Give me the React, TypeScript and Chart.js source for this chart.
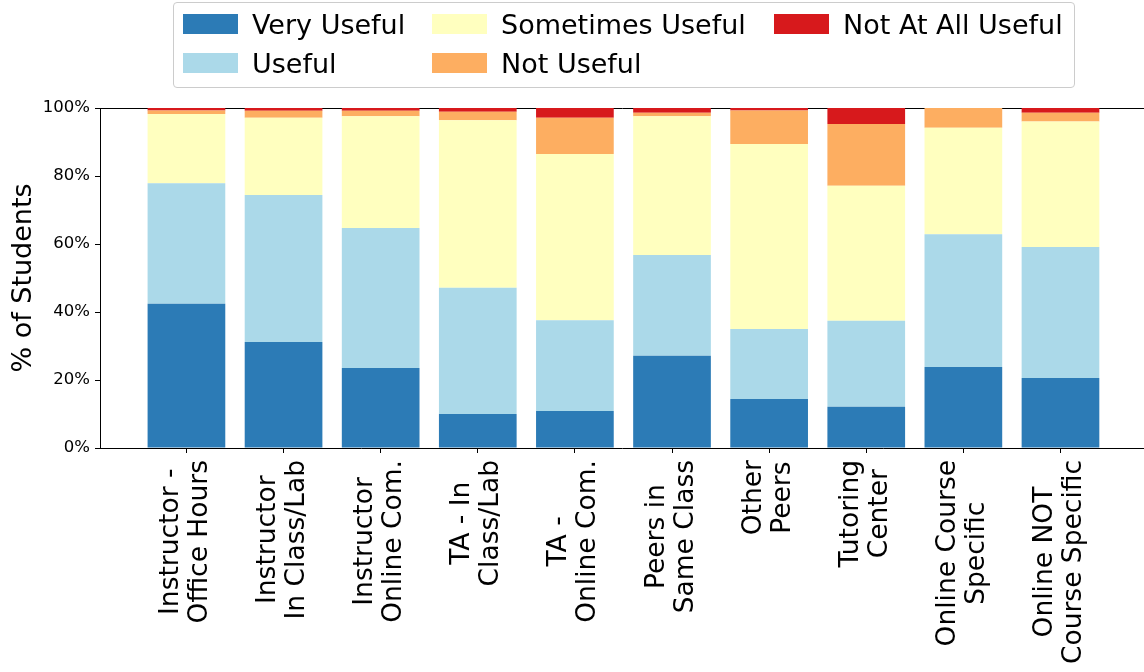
import React, { useEffect, useRef } from "react";
import { Chart, registerables } from "chart.js";

Chart.register(...registerables);

const categories: string[][] = [
  ["Instructor -", "Office Hours"],
  ["Instructor", "In Class/Lab"],
  ["Instructor", "Online Com."],
  ["TA - In", "Class/Lab"],
  ["TA -", "Online Com."],
  ["Peers in", "Same Class"],
  ["Other", "Peers"],
  ["Tutoring", "Center"],
  ["Online Course", "Specific"],
  ["Online NOT", "Course Specific"],
];

const seriesNames = ["Very Useful", "Useful", "Sometimes Useful", "Not Useful", "Not At All Useful"];
const seriesColors = ["#2c7bb6", "#abd9e9", "#ffffbf", "#fdae61", "#d7191c"];

const veryUseful = [42.4, 31.2, 23.5, 10.0, 10.9, 27.1, 14.4, 12.1, 23.8, 20.6];
const useful = [35.5, 43.2, 41.2, 37.1, 26.7, 29.7, 20.6, 25.3, 39.1, 38.5];
const sometimesUseful = [20.3, 22.7, 32.9, 49.3, 48.9, 40.8, 54.4, 39.7, 31.3, 36.9];
const notUseful = [1.1, 2.1, 1.6, 2.5, 10.6, 1.0, 9.9, 18.2, 5.8, 2.6];
const notAtAllUseful = [0.7, 0.8, 0.8, 1.1, 2.9, 1.4, 0.7, 4.7, 0.0, 1.4];

const yTicks = [0, 20, 40, 60, 80, 100];

const FONT = '"DejaVu Sans", sans-serif';

const xLabelPlugin = {
  id: "xLabelPlugin",
  afterDraw(chart: any) {
    const ctx = chart.ctx as CanvasRenderingContext2D;
    const xs = chart.scales.x;
    const bottom = chart.chartArea.bottom;
    ctx.save();
    ctx.font = `26.5px ${FONT}`;
    ctx.fillStyle = "#000";
    ctx.textAlign = "center";
    ctx.textBaseline = "alphabetic";
    categories.forEach((lines, i) => {
      const px = xs.getPixelForValue(i);
      const maxW = Math.max(...lines.map((l) => ctx.measureText(l).width));
      const cy = bottom + 12 + maxW / 2;
      ctx.save();
      ctx.translate(px, cy);
      ctx.rotate(-Math.PI / 2);
      const n = lines.length;
      lines.forEach((l, j) => {
        const off = (j - (n - 1) / 2) * 29 + 6;
        ctx.fillText(l, 0, off);
      });
      ctx.restore();
    });
    ctx.restore();
  },
};

export default function App() {
  const ref = useRef<HTMLCanvasElement | null>(null);

  useEffect(() => {
    if (!ref.current) return;
    const values = [veryUseful, useful, sometimesUseful, notUseful, notAtAllUseful];
    const chart = new Chart(ref.current, {
      type: "bar",
      data: {
        datasets: values.map((arr, k) => ({
          label: seriesNames[k],
          data: arr.map((v, i) => ({ x: i, y: v })),
          backgroundColor: seriesColors[k],
          borderWidth: 0,
          categoryPercentage: 1.0,
          barPercentage: 0.8,
          stack: "s",
        })),
      },
      options: {
        animation: false,
        responsive: false,
        devicePixelRatio: 1,
        events: [],
        layout: { padding: { top: 108, left: 0, right: 0, bottom: 0 } },
        plugins: {
          legend: { display: false },
          tooltip: { enabled: false },
          title: { display: false },
        },
        scales: {
          x: {
            type: "linear",
            position: "bottom",
            min: -0.89,
            max: 9.86,
            offset: false,
            stacked: true,
            afterBuildTicks: (s: any) => {
              s.ticks = categories.map((_, i) => ({ value: i }));
            },
            afterFit: (s: any) => {
              s.height = 224;
            },
            ticks: { display: false },
            grid: {
              display: true,
              offset: false,
              drawOnChartArea: false,
              drawTicks: true,
              tickLength: 5,
              color: "#000",
              lineWidth: 1,
            },
            border: { display: true, color: "#000", width: 1 },
          },
          xTop: {
            type: "linear",
            position: "top",
            min: -0.89,
            max: 9.86,
            offset: false,
            afterFit: (s: any) => {
              s.height = 0;
            },
            ticks: { display: false },
            grid: { display: false, offset: false },
            border: { display: true, color: "#000", width: 1 },
          },
          y: {
            type: "linear",
            min: 0,
            max: 100,
            stacked: true,
            afterBuildTicks: (s: any) => {
              s.ticks = yTicks.map((v) => ({ value: v }));
            },
            afterFit: (s: any) => {
              s.width = 100;
            },
            ticks: {
              padding: 5,
              color: "#000",
              font: { family: FONT, size: 16.5 },
              callback: (v: any) => `${v}%`,
            },
            grid: {
              display: true,
              drawOnChartArea: false,
              drawTicks: true,
              tickLength: 5,
              color: "#000",
              lineWidth: 1,
            },
            border: { display: true, color: "#000", width: 1 },
            title: {
              display: true,
              text: "% of Students",
              color: "#000",
              font: { family: FONT, size: 27 },
              padding: { top: 8, bottom: 0 },
            },
          },
        },
      },
      plugins: [xLabelPlugin],
    } as any);
    return () => chart.destroy();
  }, []);

  const colLeft = [183, 432, 774];
  const legendItems = [
    { k: 0, col: 0, row: 0 },
    { k: 1, col: 0, row: 1 },
    { k: 2, col: 1, row: 0 },
    { k: 3, col: 1, row: 1 },
    { k: 4, col: 2, row: 0 },
  ];

  return (
    <div style={{ position: "absolute", left: 0, top: 0, width: 1144, height: 672, background: "#fff" }}>
      <canvas ref={ref} width={1144} height={672} style={{ position: "absolute", left: 0, top: 0 }} />
      <div
        style={{
          position: "absolute",
          left: 173,
          top: 2,
          width: 902,
          height: 86,
          border: "1px solid #cccccc",
          borderRadius: 4,
          boxSizing: "border-box",
          background: "rgba(255,255,255,0.8)",
        }}
      />
      {legendItems.map((it) => (
        <div
          key={it.k}
          style={{
            position: "absolute",
            left: colLeft[it.col],
            top: 4.5 + it.row * 39,
            height: 39,
            display: "flex",
            alignItems: "center",
            fontFamily: FONT,
            fontSize: 27,
            lineHeight: "39px",
            color: "#000",
            whiteSpace: "nowrap",
          }}
        >
          <span
            style={{
              display: "inline-block",
              width: 55,
              height: 20,
              background: seriesColors[it.k],
              marginRight: 14,
            }}
          />
          <span>{seriesNames[it.k]}</span>
        </div>
      ))}
    </div>
  );
}
